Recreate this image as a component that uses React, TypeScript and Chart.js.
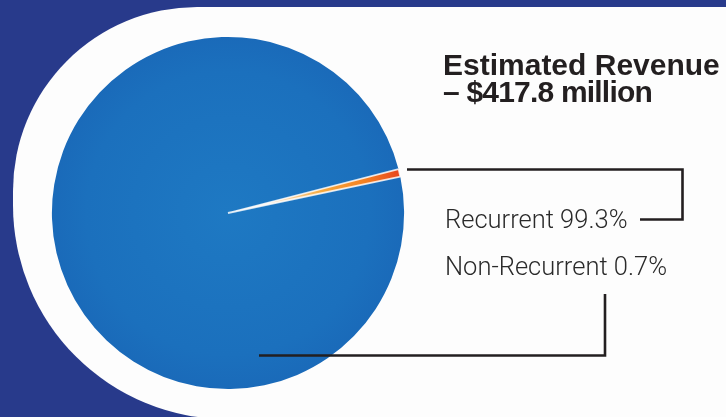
import React, { useEffect, useRef } from "react";
import { Chart, registerables } from "chart.js";

Chart.register(...registerables);

const categories = ["Recurrent", "Non-Recurrent"];
const shares = [99.3, 0.7];
const labelTexts = ["Recurrent 99.3%", "Non-Recurrent 0.7%"];
const titleLines = ["Estimated Revenue", "– $417.8 million"];
const rotationDeg = 78.1;

const W = 726;
const H = 417;

export default function App() {
  const ref = useRef<HTMLCanvasElement>(null);

  useEffect(() => {
    if (!ref.current) return;

    const geometry = (chart: any) => {
      const a = chart.chartArea;
      const cx = (a.left + a.right) / 2;
      const cy = (a.top + a.bottom) / 2;
      const r = Math.min(a.right - a.left, a.bottom - a.top) / 2;
      return { cx, cy, r };
    };

    const leaders = {
      id: "leaders",
      afterDraw(chart: any) {
        const c = chart.ctx;
        c.save();
        c.strokeStyle = "#231f20";
        c.lineWidth = 2.6;
        c.lineJoin = "miter";
        c.lineCap = "butt";
        c.beginPath();
        c.moveTo(407, 169.5);
        c.lineTo(682.5, 169.5);
        c.lineTo(682.5, 219.5);
        c.lineTo(640, 219.5);
        c.stroke();
        c.beginPath();
        c.moveTo(605, 294);
        c.lineTo(605, 355.5);
        c.lineTo(259, 355.5);
        c.stroke();
        c.restore();
      },
    };

    const chart = new Chart(ref.current, {
      type: "pie",
      data: {
        labels: categories,
        datasets: [
          {
            data: shares,
            backgroundColor: (ctx: any) => {
              const ch = ctx.chart;
              if (!ch.chartArea) return ctx.dataIndex === 0 ? "#1b6fbd" : "#f08a24";
              const { cx, cy, r } = geometry(ch);
              if (ctx.dataIndex === 0) {
                const g = ch.ctx.createRadialGradient(cx, cy, 0, cx, cy, r);
                g.addColorStop(0, "#1e79c3");
                g.addColorStop(0.8, "#1b70bd");
                g.addColorStop(1, "#1a6ab9");
                return g;
              }
              const total = shares.reduce((s, v) => s + v, 0);
              const start = ((rotationDeg - 90) * Math.PI) / 180 + (2 * Math.PI * shares[0]) / total;
              const mid = start + (Math.PI * shares[1]) / total;
              const g = ch.ctx.createLinearGradient(cx, cy, cx + r * Math.cos(mid), cy + r * Math.sin(mid));
              g.addColorStop(0, "#e4ecf5");
              g.addColorStop(0.3, "#f8dcb8");
              g.addColorStop(0.55, "#f6a83c");
              g.addColorStop(0.8, "#f27f22");
              g.addColorStop(1, "#e8441e");
              return g;
            },
            borderColor: ["rgba(0,0,0,0)", "rgba(255,255,255,0.8)"],
            borderWidth: [0, 1.8],
          },
        ],
      },
      options: {
        responsive: false,
        animation: false,
        rotation: rotationDeg,
        layout: { padding: { left: 51, top: 36, right: W - 405, bottom: H - 390 } },
        plugins: {
          legend: { display: false },
          tooltip: { enabled: false },
          title: { display: false },
        },
      },
      plugins: [leaders],
    });

    return () => chart.destroy();
  }, []);

  const labelStyle: React.CSSProperties = {
    position: "absolute",
    left: 445,
    fontFamily: 'Roboto, "Noto Sans", sans-serif',
    fontWeight: 300,
    fontSize: 25.5,
    lineHeight: "25.5px",
    color: "#2a2a2a",
    whiteSpace: "nowrap",
  };

  return (
    <div
      style={{
        position: "absolute",
        left: 0,
        top: 0,
        width: W,
        height: H,
        overflow: "hidden",
        background: "#283a8b",
      }}
    >
      <div
        style={{
          position: "absolute",
          left: 13,
          top: 7,
          width: W - 13,
          height: 412,
          background: "#fdfdfd",
          borderTopLeftRadius: 184,
          borderBottomLeftRadius: 214,
        }}
      />
      <canvas ref={ref} width={W} height={H} style={{ position: "absolute", left: 0, top: 0, width: W, height: H }} />
      <div
        style={{
          position: "absolute",
          left: 443,
          top: 51,
          fontFamily: '"Liberation Sans", Arial, sans-serif',
          fontWeight: 700,
          fontSize: 30,
          lineHeight: "27px",
          color: "#231f20",
          whiteSpace: "nowrap",
        }}
      >
        <div>{titleLines[0]}</div>
        <div style={{ letterSpacing: "-0.8px" }}>{titleLines[1]}</div>
      </div>
      <div style={{ ...labelStyle, top: 206.5 }}>{labelTexts[0]}</div>
      <div style={{ ...labelStyle, top: 253.5 }}>{labelTexts[1]}</div>
    </div>
  );
}
